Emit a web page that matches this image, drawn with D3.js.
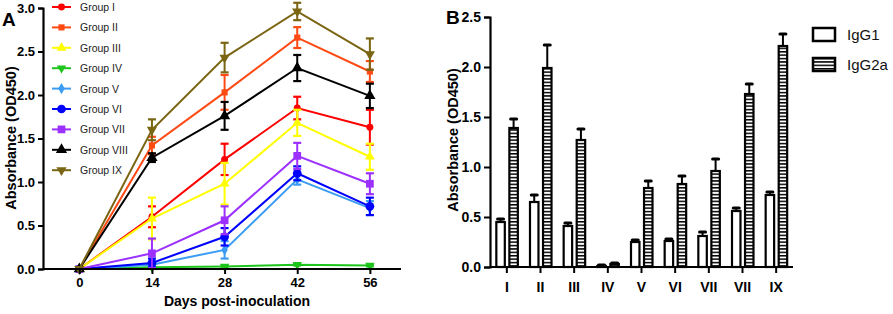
<!DOCTYPE html>
<html>
<head>
<meta charset="utf-8">
<script src="https://cdn.jsdelivr.net/npm/d3@7"></script>
<style>
  body { margin: 0; background: #fff; }
  svg text { font-family: Arial, "Liberation Sans", sans-serif; }
</style>
</head>
<body>
<div id="chart"></div>
<script>
"use strict";

// panel A: absorbance over days post-inoculation
const days = [0, 14, 28, 42, 56];
const groupNames = ["Group I", "Group II", "Group III", "Group IV", "Group V", "Group VI", "Group VII", "Group VIII", "Group IX"];
const groupI    = [0, 0.60, 1.26, 1.85, 1.63];
const groupII   = [0, 1.42, 2.03, 2.66, 2.27];
const groupIII  = [0, 0.58, 0.98, 1.68, 1.29];
const groupIV   = [0, 0.02, 0.03, 0.05, 0.04];
const groupV    = [0, 0.05, 0.22, 1.03, 0.70];
const groupVI   = [0, 0.07, 0.37, 1.10, 0.72];
const groupVII  = [0, 0.18, 0.56, 1.30, 0.98];
const groupVIII = [0, 1.28, 1.76, 2.31, 1.99];
const groupIX   = [0, 1.60, 2.43, 2.96, 2.47];
const errI    = [0, 0.12, 0.18, 0.13, 0.20];
const errII   = [0, 0.10, 0.20, 0.12, 0.12];
const errIII  = [0, 0.24, 0.24, 0.15, 0.15];
const errIV   = [0, 0.01, 0.01, 0.01, 0.01];
const errV    = [0, 0.03, 0.10, 0.06, 0.08];
const errVI   = [0, 0.05, 0.10, 0.08, 0.10];
const errVII  = [0, 0.17, 0.16, 0.15, 0.12];
const errVIII = [0, 0.05, 0.16, 0.15, 0.14];
const errIX   = [0, 0.12, 0.17, 0.10, 0.18];
const yTicksA = [0, 0.5, 1.0, 1.5, 2.0, 2.5, 3.0];

// panel B: IgG1 / IgG2a per group
const bGroups = ["I", "II", "III", "IV", "V", "VI", "VII", "VII", "IX"];
const igg1    = [0.45, 0.65, 0.41, 0.01, 0.25, 0.26, 0.31, 0.56, 0.72];
const igg2a   = [1.39, 1.99, 1.27, 0.03, 0.79, 0.83, 0.96, 1.73, 2.21];
const igg1Err  = [0.03, 0.07, 0.03, 0.01, 0.02, 0.02, 0.04, 0.03, 0.03];
const igg2aErr = [0.09, 0.23, 0.11, 0.01, 0.07, 0.08, 0.12, 0.10, 0.12];
const yTicksB = [0, 0.5, 1.0, 1.5, 2.0, 2.5];

const W = 893, H = 314;
const svg = d3.select("#chart").append("svg").attr("width", W).attr("height", H);

// ---------- panel A ----------
const means = [groupI, groupII, groupIII, groupIV, groupV, groupVI, groupVII, groupVIII, groupIX];
const errs = [errI, errII, errIII, errIV, errV, errVI, errVII, errVIII, errIX];
const colors = ["#ff0000", "#ff4a14", "#ffff00", "#1cc41c", "#3a9cf2", "#0000ff", "#9b30ff", "#000000", "#7a6512"];
const shapes = ["circle", "square", "tri", "triDown", "diamond", "circle", "square", "tri", "triDown"];
const sizes = [38, 38, 42, 38, 36, 60, 60, 55, 45];

const xA = d3.scaleLinear().domain([-7, 62]).range([43, 401]);
const yA = d3.scaleLinear().domain([0, 3]).range([269, 8]);

function symbolPath(shape, size) {
    const t = {circle: d3.symbolCircle, square: d3.symbolSquare, tri: d3.symbolTriangle,
               triDown: d3.symbolTriangle, diamond: d3.symbolDiamond}[shape];
    return d3.symbol().type(t).size(size)();
}
function symbolTransform(shape, x, y) {
    return `translate(${x},${y})` + (shape === "triDown" ? " rotate(180)" : "");
}

const gA = svg.append("g");

means.forEach((vals, gi) => {
    const pts = days.map((d, i) => ({x: d, y: vals[i], e: errs[gi][i]}));
    const g = gA.append("g");
    // error bars
    pts.filter(p => p.e > 0).forEach(p => {
        const cx = xA(p.x);
        g.append("line").attr("x1", cx).attr("x2", cx).attr("y1", yA(p.y - p.e)).attr("y2", yA(p.y + p.e))
            .attr("stroke", colors[gi]).attr("stroke-width", 2);
        [p.y - p.e, p.y + p.e].forEach(v => {
            g.append("line").attr("x1", cx - 4).attr("x2", cx + 4).attr("y1", yA(v)).attr("y2", yA(v))
                .attr("stroke", colors[gi]).attr("stroke-width", 2.2);
        });
    });
    g.append("path").datum(pts)
        .attr("fill", "none").attr("stroke", colors[gi]).attr("stroke-width", 2)
        .attr("d", d3.line().x(d => xA(d.x)).y(d => yA(d.y)));
    g.selectAll("path.pt").data(pts).enter().append("path").attr("class", "pt")
        .attr("d", symbolPath(shapes[gi], sizes[gi]))
        .attr("transform", d => symbolTransform(shapes[gi], xA(d.x), yA(d.y)))
        .attr("fill", colors[gi]);
});

// axes A
const axA = gA.append("g").attr("transform", "translate(43,0)")
    .call(d3.axisLeft(yA).tickValues(yTicksA).tickFormat(d3.format(".1f")).tickSize(5).tickPadding(3));
const axAx = gA.append("g").attr("transform", "translate(0,269)")
    .call(d3.axisBottom(xA).tickValues(days).tickSize(5).tickPadding(4));
[axA, axAx].forEach(a => {
    a.select(".domain").attr("stroke", "#000").attr("stroke-width", 2.2);
    a.selectAll(".tick line").attr("stroke", "#000").attr("stroke-width", 2);
    a.selectAll("text").attr("fill", "#000").style("font-size", "13px").style("font-weight", "bold");
});
axAx.select(".domain").attr("d", "M43,0H401");

gA.append("text").attr("x", 237).attr("y", 306).attr("text-anchor", "middle")
    .style("font-size", "14px").style("font-weight", "bold").text("Days post-inoculation");
gA.append("text").attr("transform", "translate(16,138) rotate(-90)").attr("text-anchor", "middle")
    .style("font-size", "14.5px").style("font-weight", "bold").text("Absorbance (OD450)");
gA.append("text").attr("x", 2).attr("y", 26).style("font-size", "19px").style("font-weight", "bold").text("A");

// legend A
const legA = gA.append("g");
groupNames.forEach((name, gi) => {
    const ly = 7 + gi * 20.4;
    legA.append("line").attr("x1", 52).attr("x2", 71).attr("y1", ly).attr("y2", ly)
        .attr("stroke", colors[gi]).attr("stroke-width", 2);
    legA.append("path").attr("d", symbolPath(shapes[gi], sizes[gi]))
        .attr("transform", symbolTransform(shapes[gi], 61.5, ly)).attr("fill", colors[gi]);
    legA.append("text").attr("x", 80).attr("y", ly + 4).style("font-size", "10.5px").attr("fill", "#222").text(name);
});

// ---------- panel B ----------
const xB = d3.scaleBand().domain(d3.range(bGroups.length)).range([490, 793]).paddingInner(0).paddingOuter(0);
const xSub = d3.scaleBand().domain(["IgG1", "IgG2a"]).range([-10.5, 11]).paddingInner(0.35);
const yB = d3.scaleLinear().domain([0, 2.5]).range([267, 17]);

const defs = svg.append("defs");
const pat = defs.append("pattern").attr("id", "stripes").attr("patternUnits", "userSpaceOnUse")
    .attr("width", 6).attr("height", 3.4);
pat.append("rect").attr("width", 6).attr("height", 3.4).attr("fill", "#fff");
pat.append("rect").attr("y", 0).attr("width", 6).attr("height", 1.5).attr("fill", "#000");

const gB = svg.append("g");
const barData = [];
bGroups.forEach((g, i) => {
    barData.push({i: i, key: "IgG1", v: igg1[i], e: igg1Err[i]});
    barData.push({i: i, key: "IgG2a", v: igg2a[i], e: igg2aErr[i]});
});

const bars = gB.selectAll("g.bar").data(barData).enter().append("g").attr("class", "bar")
    .attr("transform", d => `translate(${xB(d.i) + xB.bandwidth() / 2 + xSub(d.key)},0)`);
// error bars (upper only)
bars.append("line").attr("x1", xSub.bandwidth() / 2).attr("x2", xSub.bandwidth() / 2)
    .attr("y1", d => yB(d.v)).attr("y2", d => yB(d.v + d.e))
    .attr("stroke", "#000").attr("stroke-width", 2);
bars.append("line").attr("x1", xSub.bandwidth() / 2 - 3).attr("x2", xSub.bandwidth() / 2 + 3)
    .attr("y1", d => yB(d.v + d.e)).attr("y2", d => yB(d.v + d.e))
    .attr("stroke", "#000").attr("stroke-width", 3).attr("stroke-linecap", "round");
bars.append("rect").attr("x", 0).attr("width", xSub.bandwidth())
    .attr("y", d => yB(d.v)).attr("height", d => yB(0) - yB(d.v))
    .attr("fill", d => d.key === "IgG1" ? "#fff" : "url(#stripes)")
    .attr("stroke", "#000").attr("stroke-width", 2.2);

const axB = gB.append("g").attr("transform", "translate(490,0)")
    .call(d3.axisLeft(yB).tickValues(yTicksB).tickFormat(d3.format(".1f")).tickSize(6).tickPadding(3));
const axBx = gB.append("g").attr("transform", "translate(0,267)")
    .call(d3.axisBottom(xB).tickFormat(i => bGroups[i]).tickSize(6).tickPadding(9));
[axB, axBx].forEach(a => {
    a.select(".domain").attr("stroke", "#000").attr("stroke-width", 2.2);
    a.selectAll(".tick line").attr("stroke", "#000").attr("stroke-width", 2);
    a.selectAll("text").attr("fill", "#000").style("font-size", "14px").style("font-weight", "bold");
});
axBx.select(".domain").attr("d", "M490,0H793");

gB.append("text").attr("transform", "translate(458,140) rotate(-90)").attr("text-anchor", "middle")
    .style("font-size", "14.5px").style("font-weight", "bold").text("Absorbance (OD450)");
gB.append("text").attr("x", 446).attr("y", 24).style("font-size", "19px").style("font-weight", "bold").text("B");

// legend B
const legB = gB.append("g");
["IgG1", "IgG2a"].forEach((k, i) => {
    const ly = 28 + i * 30;
    legB.append("rect").attr("x", 813).attr("y", ly).attr("width", 22).attr("height", 13)
        .attr("fill", k === "IgG1" ? "#fff" : "url(#stripes)").attr("stroke", "#000").attr("stroke-width", 2.5);
    legB.append("text").attr("x", 847).attr("y", ly + 12).style("font-size", "15px").attr("fill", "#111").text(k);
});
</script>
</body>
</html>
